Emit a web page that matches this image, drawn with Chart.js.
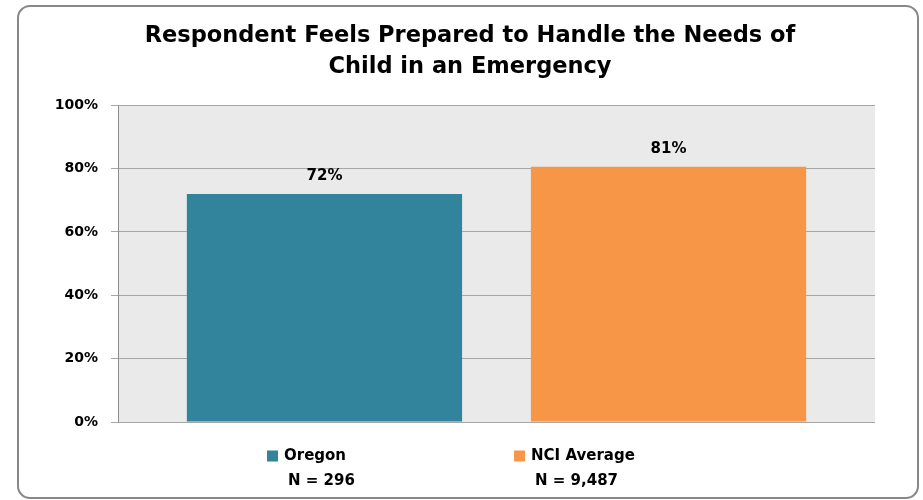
<!DOCTYPE html>
<html>
<head>
<meta charset="utf-8">
<script src="https://cdn.jsdelivr.net/npm/chart.js@4.4.0/dist/chart.umd.min.js"></script>
<style>
  body { margin: 0; background: #fff; }
  #wrap { position: relative; width: 923px; height: 500px; }
  #marco { position: absolute; left: 17px; top: 5px; width: 898px; height: 490px; border: 2px solid #878787; border-radius: 13px; }
  canvas { position: absolute; left: 0; top: 0; }
</style>
</head>
<body>
<div id="wrap">
  <div id="marco"></div>
  <canvas id="myChart" width="923" height="500"></canvas>
</div>
<script>
const titulo = ['Respondent Feels Prepared to Handle the Needs of', 'Child in an Emergency'];
const series = ['Oregon', 'NCI Average'];
const muestras = ['N = 296', 'N = 9,487'];
const valores = [72, 80.6];
const etiquetas = ['72%', '81%'];
const colores = ['#31849B', '#F79646'];
const ticksY = [0, 20, 40, 60, 80, 100];

const fuente = "'DejaVu Sans', sans-serif";

// fondo gris del área de trazado
const fondo = {
    id: 'fondo',
    afterLayout(chart) {
        // el título va algo corrido a la derecha en el original
        if (chart.titleBlock) chart.titleBlock.left += 25;
    },
    beforeDraw(chart) {
        const {ctx, chartArea: a} = chart;
        ctx.save();
        ctx.fillStyle = '#EAEAEA';
        ctx.fillRect(a.left, a.top, a.right - a.left, a.bottom - a.top);
        ctx.restore();
    }
};

// porcentajes encima de cada barra
const etiquetasBarras = {
    id: 'etiquetasBarras',
    afterDatasetsDraw(chart) {
        const ctx = chart.ctx;
        ctx.save();
        ctx.font = 'bold 15px ' + fuente;
        ctx.fillStyle = '#000';
        ctx.textAlign = 'center';
        ctx.textBaseline = 'middle';
        chart.data.datasets.forEach((d, i) => {
            const bar = chart.getDatasetMeta(i).data[0];
            ctx.fillText(etiquetas[i], bar.x, bar.y - 18);
        });
        ctx.restore();
    }
};

// leyenda abajo con dos líneas por serie
const leyenda = {
    id: 'leyenda',
    afterDraw(chart) {
        const ctx = chart.ctx;
        ctx.save();
        ctx.font = 'bold 15px ' + fuente;
        ctx.textBaseline = 'middle';
        ctx.textAlign = 'left';
        const caja = 11, sep = 6, hueco = 168;
        const anchos = series.map(s => caja + sep + ctx.measureText(s).width);
        let x = 267;
        const y1 = 456, y2 = 481;
        series.forEach((s, i) => {
            ctx.fillStyle = colores[i];
            ctx.fillRect(x, y1 - caja / 2, caja, caja);
            ctx.fillStyle = '#000';
            ctx.fillText(s, x + caja + sep, y1);
            ctx.fillText(muestras[i], x + caja + sep + 4, y2);
            x += anchos[i] + hueco;
        });
        ctx.restore();
    }
};

const ctx = document.getElementById('myChart').getContext('2d');

new Chart(ctx, {
    type: 'bar',
    data: {
        labels: [''],
        datasets: series.map((s, i) => ({
            label: s,
            data: [valores[i]],
            backgroundColor: colores[i],
            borderWidth: 0,
            categoryPercentage: 0.909,
            barPercentage: 0.8
        }))
    },
    options: {
        responsive: false,
        animation: false,
        layout: {
            padding: { left: 40, right: 48, top: 0, bottom: 78 }
        },
        scales: {
            x: { display: false },
            y: {
                min: 0,
                max: 100,
                afterBuildTicks: scale => { scale.ticks = ticksY.map(v => ({ value: v })); },
                afterFit: scale => { scale.width = 78; },
                ticks: {
                    callback: v => v + '%',
                    color: '#000',
                    padding: 13,
                    font: { family: fuente, size: 14, weight: 'bold' }
                },
                grid: { color: '#A6A6A6', tickLength: 7 },
                border: { color: '#8C8C8C' }
            }
        },
        plugins: {
            title: {
                display: true,
                text: titulo,
                color: '#000',
                font: { family: fuente, size: 22.5, weight: 'bold', lineHeight: 1.36 },
                padding: { top: 21, bottom: 23 }
            },
            legend: { display: false },
            tooltip: { enabled: false }
        }
    },
    plugins: [fondo, etiquetasBarras, leyenda]
});
</script>
</body>
</html>
